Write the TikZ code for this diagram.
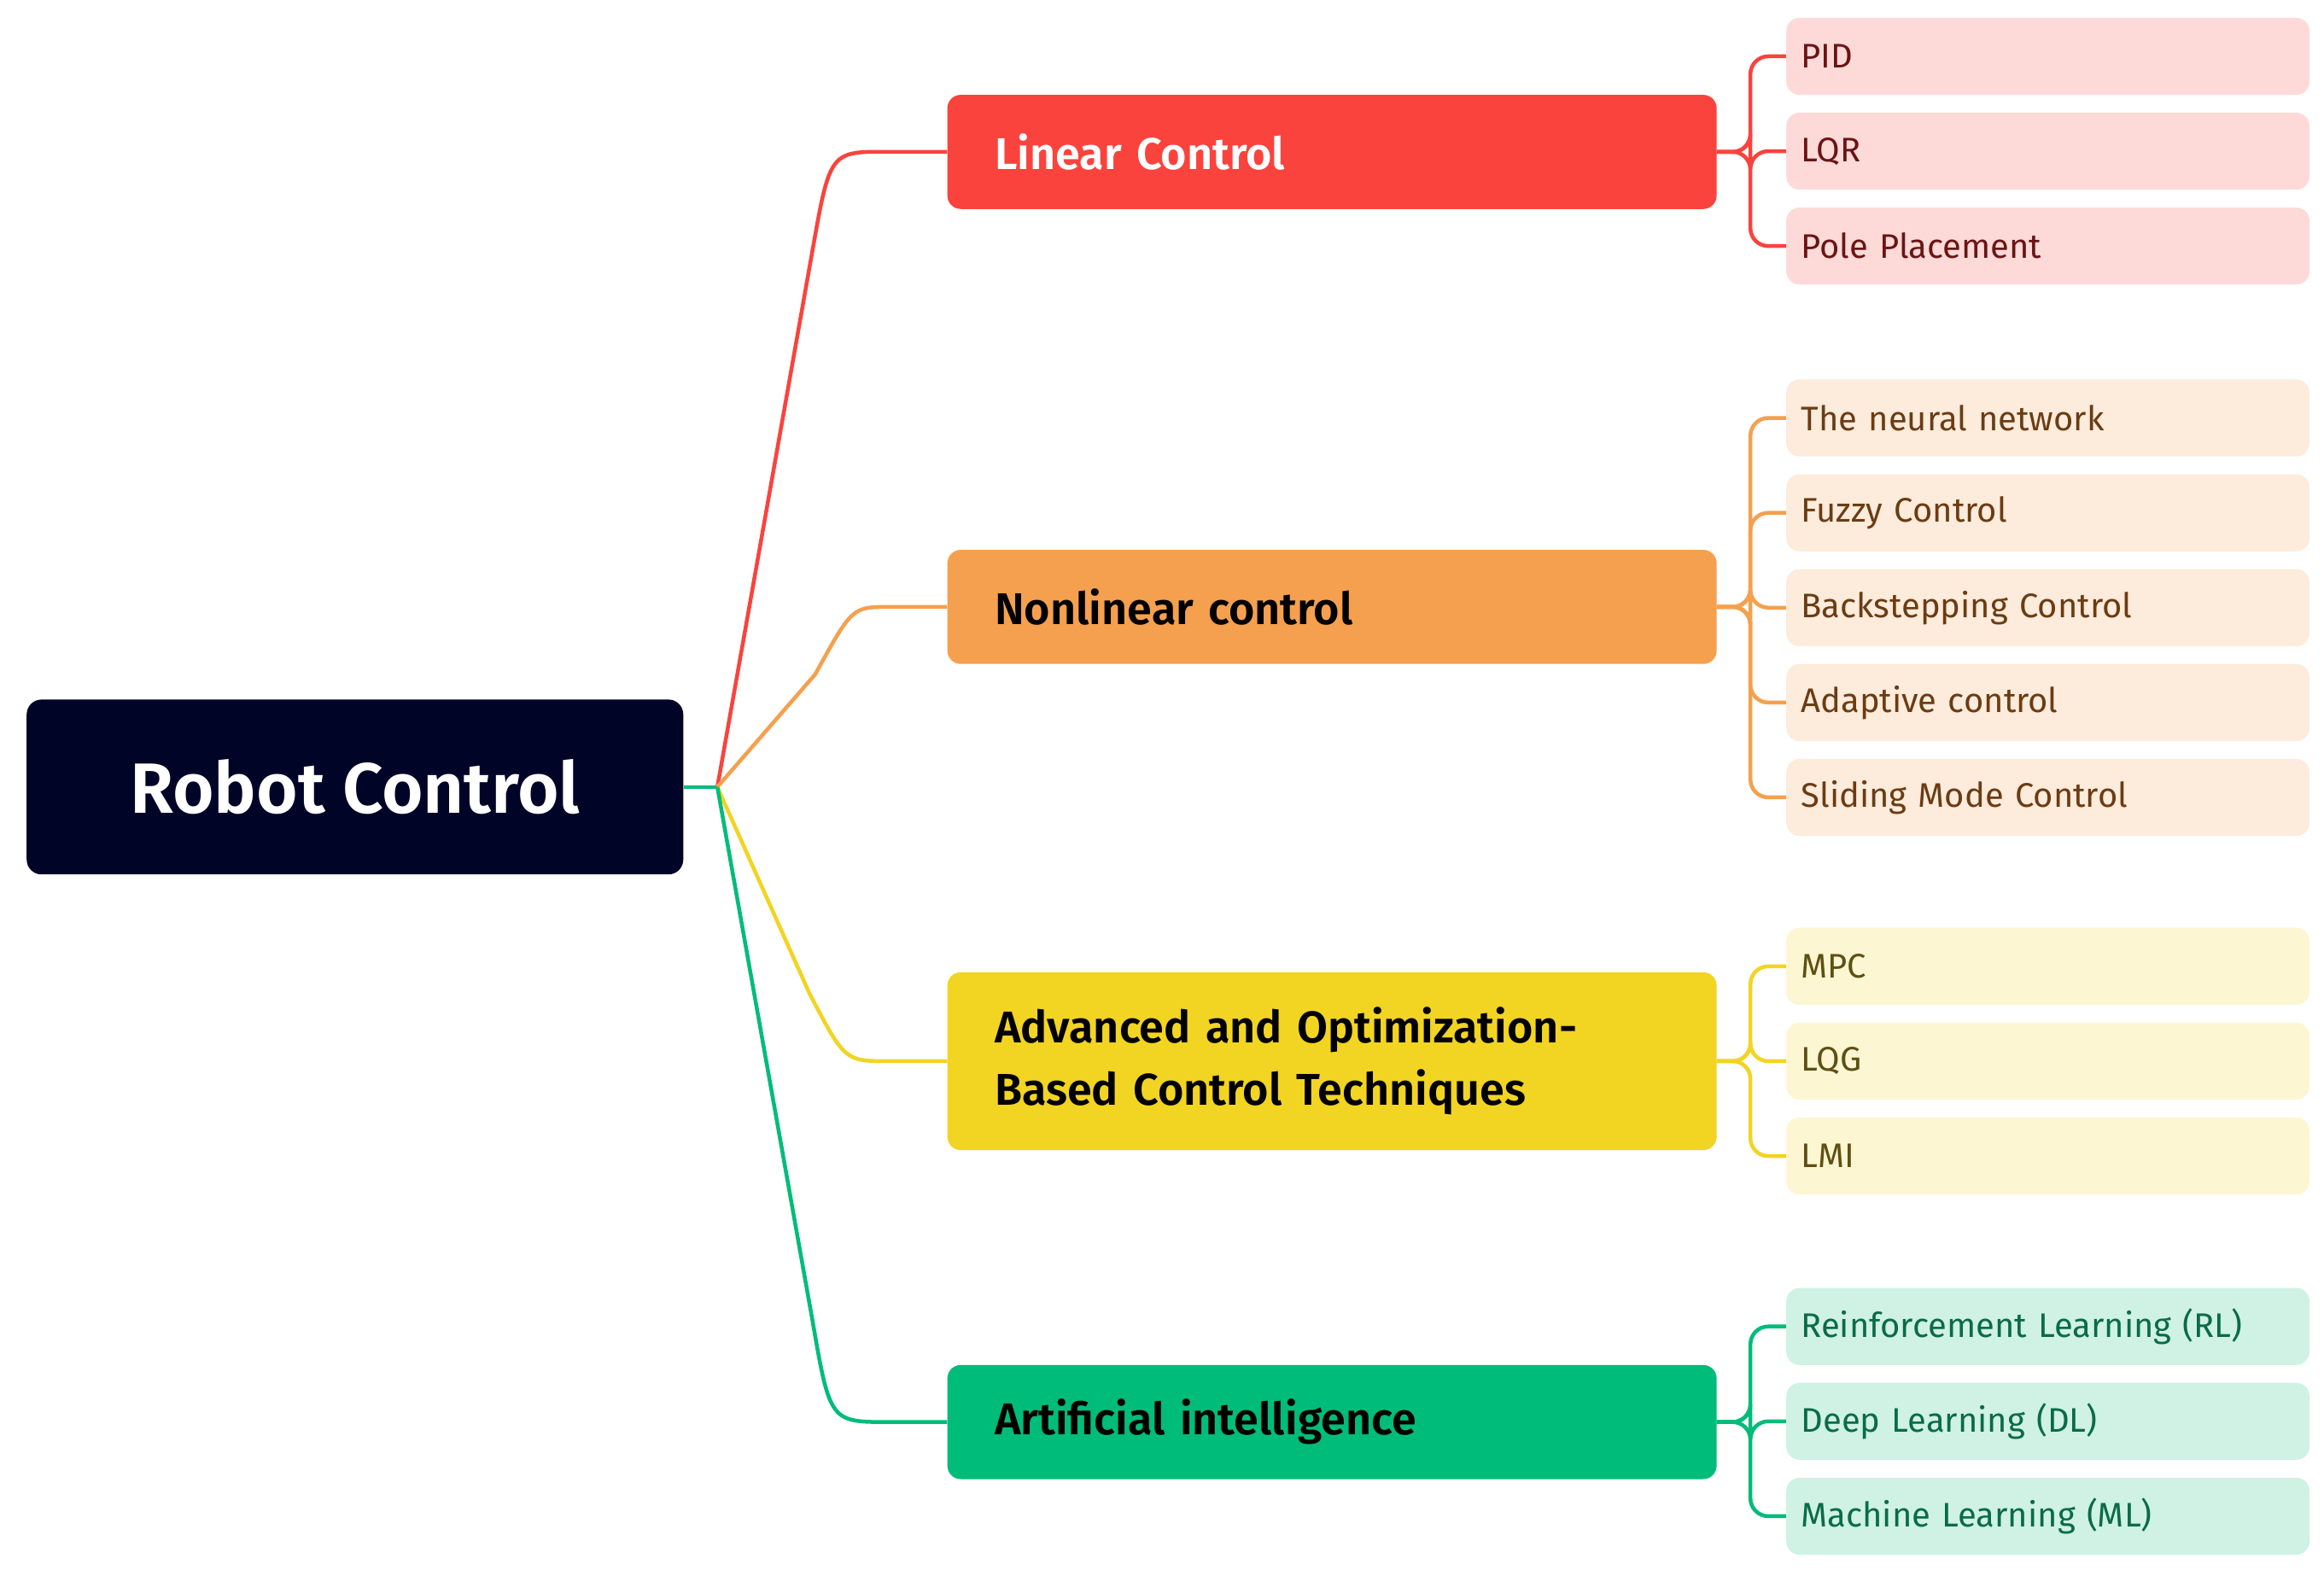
\documentclass[tikz,border=0pt]{standalone}
\usepackage{fontspec}
\setmainfont{Fira Sans}
\newfontfamily\semib{Fira Sans}[UprightFont=* SemiBold]
\begin{document}
\begin{tikzpicture}[x=1pt,y=-1pt,
  br/.style={rectangle,rounded corners=9pt,minimum width=519pt,minimum height=77pt,text width=455pt,align=left,inner xsep=32pt,anchor=west,font=\semib\fontsize{30}{42}\selectfont},
  lf/.style={rectangle,rounded corners=9pt,minimum width=353pt,minimum height=52pt,text width=333pt,align=left,inner xsep=10pt,anchor=west,font=\fontsize{23}{28}\selectfont},
  ln/.style={line width=2.6pt,rounded corners=12pt}]
\definecolor{navy}{HTML}{000528}
\definecolor{cR}{HTML}{FA433D}\definecolor{lR}{HTML}{FDDAD8}\definecolor{tR}{HTML}{6B1414}
\definecolor{cO}{HTML}{F5A04E}\definecolor{lO}{HTML}{FDEBDC}\definecolor{tO}{HTML}{6B3C12}
\definecolor{cY}{HTML}{F2D422}\definecolor{lY}{HTML}{FCF6D3}\definecolor{tY}{HTML}{5E5012}
\definecolor{cG}{HTML}{00BC7A}\definecolor{lG}{HTML}{CFF2E4}\definecolor{tG}{HTML}{0A6B4A}
\useasboundingbox (0,0) rectangle (1568,1063);
\node[rectangle,rounded corners=10pt,fill=navy,minimum width=443pt,minimum height=118pt,text=white,font=\semib\fontsize{48}{56}\selectfont] (root) at (239.5,531) {Robot Control};
\coordinate (hub) at (484,531);
\node[br,fill=cR,text=white] (b1) at (639,102.5) {Linear Control};
\node[br,fill=cO] (b2) at (639,409.5) {Nonlinear control};
\node[br,fill=cY,minimum height=120pt] (b3) at (639,716) {Advanced and Optimization-\\Based Control Techniques};
\node[br,fill=cG] (b4) at (639,959.5) {Artificial intelligence};
\draw[cG,line width=2.6pt] (root.east) -- (hub);
\draw[cR,line width=2.6pt] (hub) -- (548,170) .. controls (560,102) .. (600,102.5) -- (b1.west);
\draw[cO,line width=2.6pt] (hub) -- (550,455) .. controls (575,409.5) .. (600,409.5) -- (b2.west);
\draw[cY,line width=2.6pt] (hub) -- (546,670) .. controls (570,716) .. (600,716) -- (b3.west);
\draw[cG,line width=2.6pt] (hub) -- (548,890) .. controls (560,959.5) .. (600,959.5) -- (b4.west);
% leaves
\foreach \y/\t [count=\i] in {38/PID,102/LQR,166/Pole Placement}{
  \node[lf,fill=lR,text=tR] (r\i) at (1205,\y) {\t};
  \draw[ln,cR] (b1.east) -- (1181,102.5) -- (1181,\y) -- (r\i.west);}
\foreach \y/\t [count=\i] in {282/The neural network,346/Fuzzy Control,410/Backstepping Control,474/Adaptive control,538/Sliding Mode Control}{
  \node[lf,fill=lO,text=tO] (o\i) at (1205,\y) {\t};
  \draw[ln,cO] (b2.east) -- (1181,409.5) -- (1181,\y) -- (o\i.west);}
\foreach \y/\t [count=\i] in {652/MPC,716/LQG,780/LMI}{
  \node[lf,fill=lY,text=tY] (y\i) at (1205,\y) {\t};
  \draw[ln,cY] (b3.east) -- (1181,716) -- (1181,\y) -- (y\i.west);}
\foreach \y/\t [count=\i] in {895/Reinforcement Learning (RL),959/Deep Learning (DL),1023/Machine Learning (ML)}{
  \node[lf,fill=lG,text=tG] (g\i) at (1205,\y) {\t};
  \draw[ln,cG] (b4.east) -- (1181,959.5) -- (1181,\y) -- (g\i.west);}
\end{tikzpicture}
\end{document}
